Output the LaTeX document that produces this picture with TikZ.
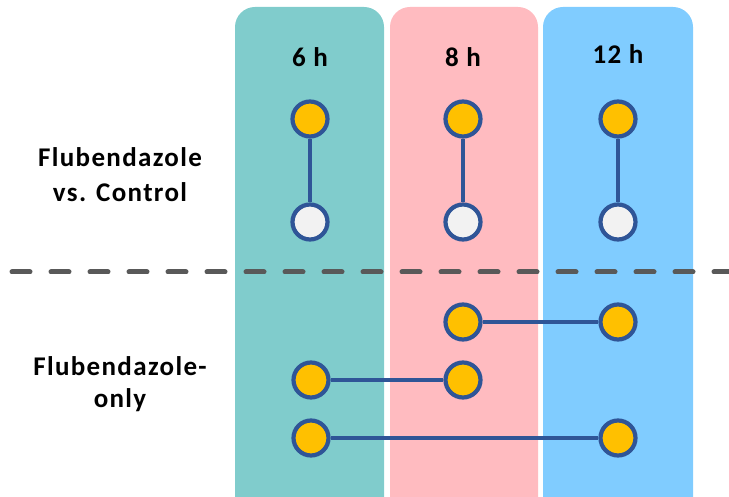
\documentclass[tikz,border=0pt]{standalone}
\usepackage{fontspec}
\setmainfont{Carlito}
\definecolor{teal1}{HTML}{80CCCC}
\definecolor{pink1}{HTML}{FFBBC0}
\definecolor{blue1}{HTML}{80CCFF}
\definecolor{gold1}{HTML}{FFC000}
\definecolor{navy1}{HTML}{2F5597}
\definecolor{white1}{HTML}{F2F2F2}
\definecolor{gray1}{HTML}{595959}
\begin{document}
\begin{tikzpicture}[x=1pt,y=-1pt,
  col/.style={rounded corners=20pt},
  dot/.style={circle,draw=navy1,line width=4.2pt,fill=gold1,minimum size=35pt,inner sep=0pt},
  wdot/.style={dot,fill=white1},
  link/.style={draw=navy1,line width=4.2pt},
  hdr/.style={font=\bfseries\fontsize{27}{30}\selectfont\addfontfeature{LetterSpace=5},anchor=base},
  lbl/.style={font=\bfseries\fontsize{27}{30}\selectfont\addfontfeature{LetterSpace=5},anchor=base}]
\useasboundingbox (0,0) rectangle (729,497);
\fill[teal1,col] (235,7) rectangle (384,520);
\fill[pink1,col] (390,7) rectangle (538,520);
\fill[blue1,col] (543,7) rectangle (693,520);
\node[hdr] (h6) at (310,67) {6 h};
\node[hdr] (h8) at (463,67) {8 h};
\node[hdr] (h12) at (618,64) {12 h};
\node[lbl] (l1a) at (120,167) {Flubendazole};
\node[lbl] (l1b) at (120,202) {vs. Control};
\node[lbl] (l2a) at (120,375) {Flubendazole-};
\node[lbl] (l2b) at (120,407) {only};
\coordinate (d1) at (12,272);
\coordinate (d2) at (729,272);
\draw[gray1,line width=5pt,line cap=round,dash pattern=on 18pt off 21pt] (d1) -- (d2);
\node[dot] (a1) at (310,119) {};
\node[wdot] (a2) at (310,222) {};
\node[dot] (b1) at (463,119) {};
\node[wdot] (b2) at (463,222) {};
\node[dot] (c1) at (618,119) {};
\node[wdot] (c2) at (618,222) {};
\draw[link] (a1) -- (a2);
\draw[link] (b1) -- (b2);
\draw[link] (c1) -- (c2);
\node[dot] (r1a) at (463,322) {};
\node[dot] (r1b) at (618,322) {};
\node[dot] (r2a) at (311,380) {};
\node[dot] (r2b) at (463,380) {};
\node[dot] (r3a) at (311,438) {};
\node[dot] (r3b) at (618,438) {};
\draw[link] (r1a) -- (r1b);
\draw[link] (r2a) -- (r2b);
\draw[link] (r3a) -- (r3b);
\end{tikzpicture}
\end{document}
